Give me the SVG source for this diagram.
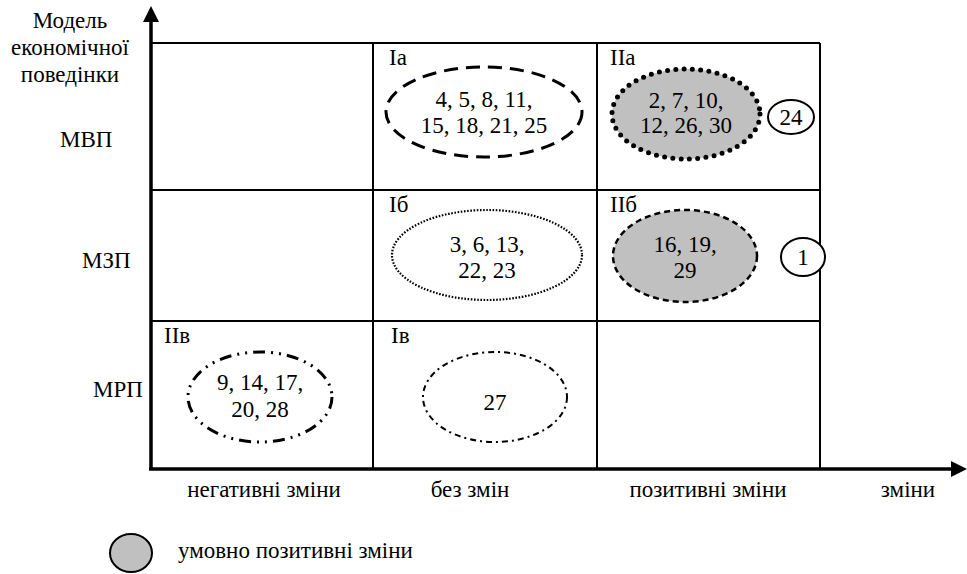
<svg xmlns="http://www.w3.org/2000/svg" width="967" height="574" viewBox="0 0 967 574">
<style>
text{font-family:"Liberation Serif","Times New Roman",serif;font-size:23px;fill:#000}
.c{text-anchor:middle}
.grid{stroke:#000;stroke-width:2;fill:none}
.axis{stroke:#000;stroke-width:3.5;fill:none}
.gray{fill:#c0c0c0}
</style>
<defs>
<marker id="ah" markerWidth="16" markerHeight="16" refX="0" refY="8" orient="auto" markerUnits="userSpaceOnUse" viewBox="0 0 16 16">
<path d="M0,0 L16,8 L0,16 Z" fill="#000"/>
</marker>
</defs>
<rect width="967" height="574" fill="#fff"/>
<g id="connectors">
<line class="grid" x1="150" y1="43" x2="820" y2="43"/>
<line class="grid" x1="150" y1="190" x2="820" y2="190"/>
<line class="grid" x1="150" y1="321" x2="820" y2="321"/>
<line class="grid" x1="373" y1="43" x2="373" y2="469"/>
<line class="grid" x1="597" y1="43" x2="597" y2="469"/>
<line class="grid" x1="820" y1="43" x2="820" y2="469"/>
<line class="axis" x1="151" y1="469" x2="151" y2="22" marker-end="url(#ah)"/>
<line class="axis" x1="149" y1="469" x2="951" y2="469" marker-end="url(#ah)"/>
</g>
<g id="axis-labels">
<text class="c" x="70" y="28">Модель</text>
<text class="c" x="70" y="55">економічної</text>
<text class="c" x="70" y="82">поведінки</text>
<text x="60" y="147">МВП</text>
<text x="82" y="268">МЗП</text>
<text x="93" y="397">МРП</text>
<text class="c" x="264" y="497">негативні зміни</text>
<text class="c" x="470" y="497">без змін</text>
<text class="c" x="708" y="497">позитивні зміни</text>
<text class="c" x="908" y="497">зміни</text>
</g>
<g id="Ia">
<text x="389" y="65">Ia</text>
<ellipse cx="484" cy="112" rx="98" ry="45" fill="none" stroke="#000" stroke-width="3" stroke-dasharray="14 8"/>
<text class="c" x="484" y="107">4, 5, 8, 11,</text>
<text class="c" x="484" y="133">15, 18, 21, 25</text>
</g>
<g id="IIa">
<text x="610" y="65">IIa</text>
<ellipse cx="686" cy="114" rx="74" ry="45" class="gray" stroke="#000" stroke-width="5" stroke-dasharray="0 8.3" stroke-linecap="round"/>
<text class="c" x="686" y="108">2, 7, 10,</text>
<text class="c" x="686" y="133">12, 26, 30</text>
</g>
<g id="n24">
<ellipse cx="791" cy="117" rx="23" ry="17" fill="#fff" stroke="#000" stroke-width="2"/>
<text class="c" x="791" y="125">24</text>
</g>
<g id="Ib">
<text x="389" y="212">Iб</text>
<ellipse cx="487" cy="255" rx="95" ry="45" fill="none" stroke="#000" stroke-width="2.2" stroke-dasharray="1.6 1.6"/>
<text class="c" x="487" y="252">3, 6, 13,</text>
<text class="c" x="487" y="278">22, 23</text>
</g>
<g id="IIb">
<text x="610" y="212">IIб</text>
<ellipse cx="685" cy="256" rx="72" ry="46" class="gray" stroke="#000" stroke-width="2.5" stroke-dasharray="6 4"/>
<text class="c" x="685" y="252">16, 19,</text>
<text class="c" x="685" y="278">29</text>
</g>
<g id="n1">
<ellipse cx="803" cy="257" rx="22" ry="19" fill="#fff" stroke="#000" stroke-width="2"/>
<text class="c" x="803" y="265">1</text>
</g>
<g id="IIv">
<text x="164" y="343">IIв</text>
<ellipse cx="260" cy="397" rx="72" ry="45" fill="none" stroke="#000" stroke-width="3" stroke-dasharray="12 6 2 6 2 6"/>
<text class="c" x="260" y="390">9, 14, 17,</text>
<text class="c" x="260" y="417">20, 28</text>
</g>
<g id="Iv">
<text x="391" y="343">Iв</text>
<ellipse cx="495" cy="397" rx="72" ry="45" fill="none" stroke="#000" stroke-width="2" stroke-dasharray="6 4 2 4"/>
<text class="c" x="495" y="410">27</text>
</g>
<g id="legend">
<ellipse cx="131" cy="553" rx="21" ry="19" class="gray" stroke="#000" stroke-width="2"/>
<text x="178" y="558">умовно позитивні зміни</text>
</g>
</svg>
